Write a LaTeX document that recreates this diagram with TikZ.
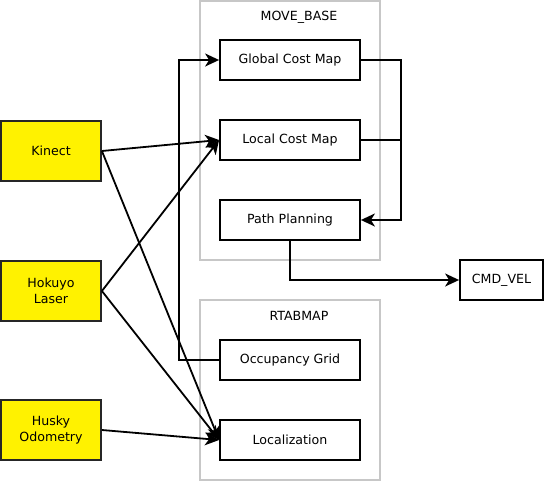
\documentclass[tikz,border=0pt]{standalone}
\usepackage{fontspec}
\setmainfont{DejaVu Sans}
\usetikzlibrary{arrows.meta}

\tikzset{
  source/.style={draw=black!85, line width=1.8pt, fill=yellow, minimum width=100pt, minimum height=60pt, align=center, font=\fontsize{12.6}{15.5}\selectfont},
  block/.style={draw=black, line width=1.8pt, minimum width=140pt, minimum height=40pt, font=\fontsize{12.6}{15}\selectfont},
  group/.style={draw=black!22, line width=1.8pt, minimum width=180pt},
  grouplabel/.style={font=\fontsize{12.6}{15}\selectfont},
  arr/.style={line width=1.8pt, -{Stealth[length=14pt, width=13pt, inset=4pt]}},
  wire/.style={line width=1.8pt}
}

\begin{document}
\begin{tikzpicture}[x=1pt, y=-1pt]

    \useasboundingbox (0,0) rectangle (544,482);

    \node[group, minimum height=259pt] (movebase) at (290,130.5) {};
    \node[grouplabel] (movebaselabel) at (299,17) {MOVE\_BASE};

    \node[group, minimum height=180pt] (rtabmap) at (290,390) {};
    \node[grouplabel] (rtabmaplabel) at (299,316) {RTABMAP};

    \node[source] (kinect) at (51,151) {Kinect};
    \node[source] (hokuyo) at (51,291) {Hokuyo\\Laser};
    \node[source] (husky) at (51,430) {Husky\\Odometry};

    \node[block] (global) at (290,60) {Global Cost Map};
    \node[block] (local) at (290,140) {Local Cost Map};
    \node[block] (path) at (290,220) {Path Planning};

    \node[block] (occupancy) at (290,360) {Occupancy Grid};
    \node[block] (localization) at (290,440) {Localization};

    \node[block, minimum width=83pt] (cmdvel) at (501.5,280) {CMD\_VEL};

    \draw[arr] (kinect.east) -- (local.west);
    \draw[arr] (kinect.east) -- (localization.west);
    \draw[arr] (hokuyo.east) -- (local.west);
    \draw[arr] (hokuyo.east) -- (localization.west);
    \draw[arr] (husky.east) -- (localization.west);

    \draw[arr] (occupancy.west) -- ++(-40,0) |- (global.west);
    \draw[arr] (global.east) -- ++(40,0) |- (path.east);
    \draw[wire] (local.east) -- ++(40,0);
    \draw[arr] (path.south) |- (cmdvel.west);

  \end{tikzpicture}
\end{document}
